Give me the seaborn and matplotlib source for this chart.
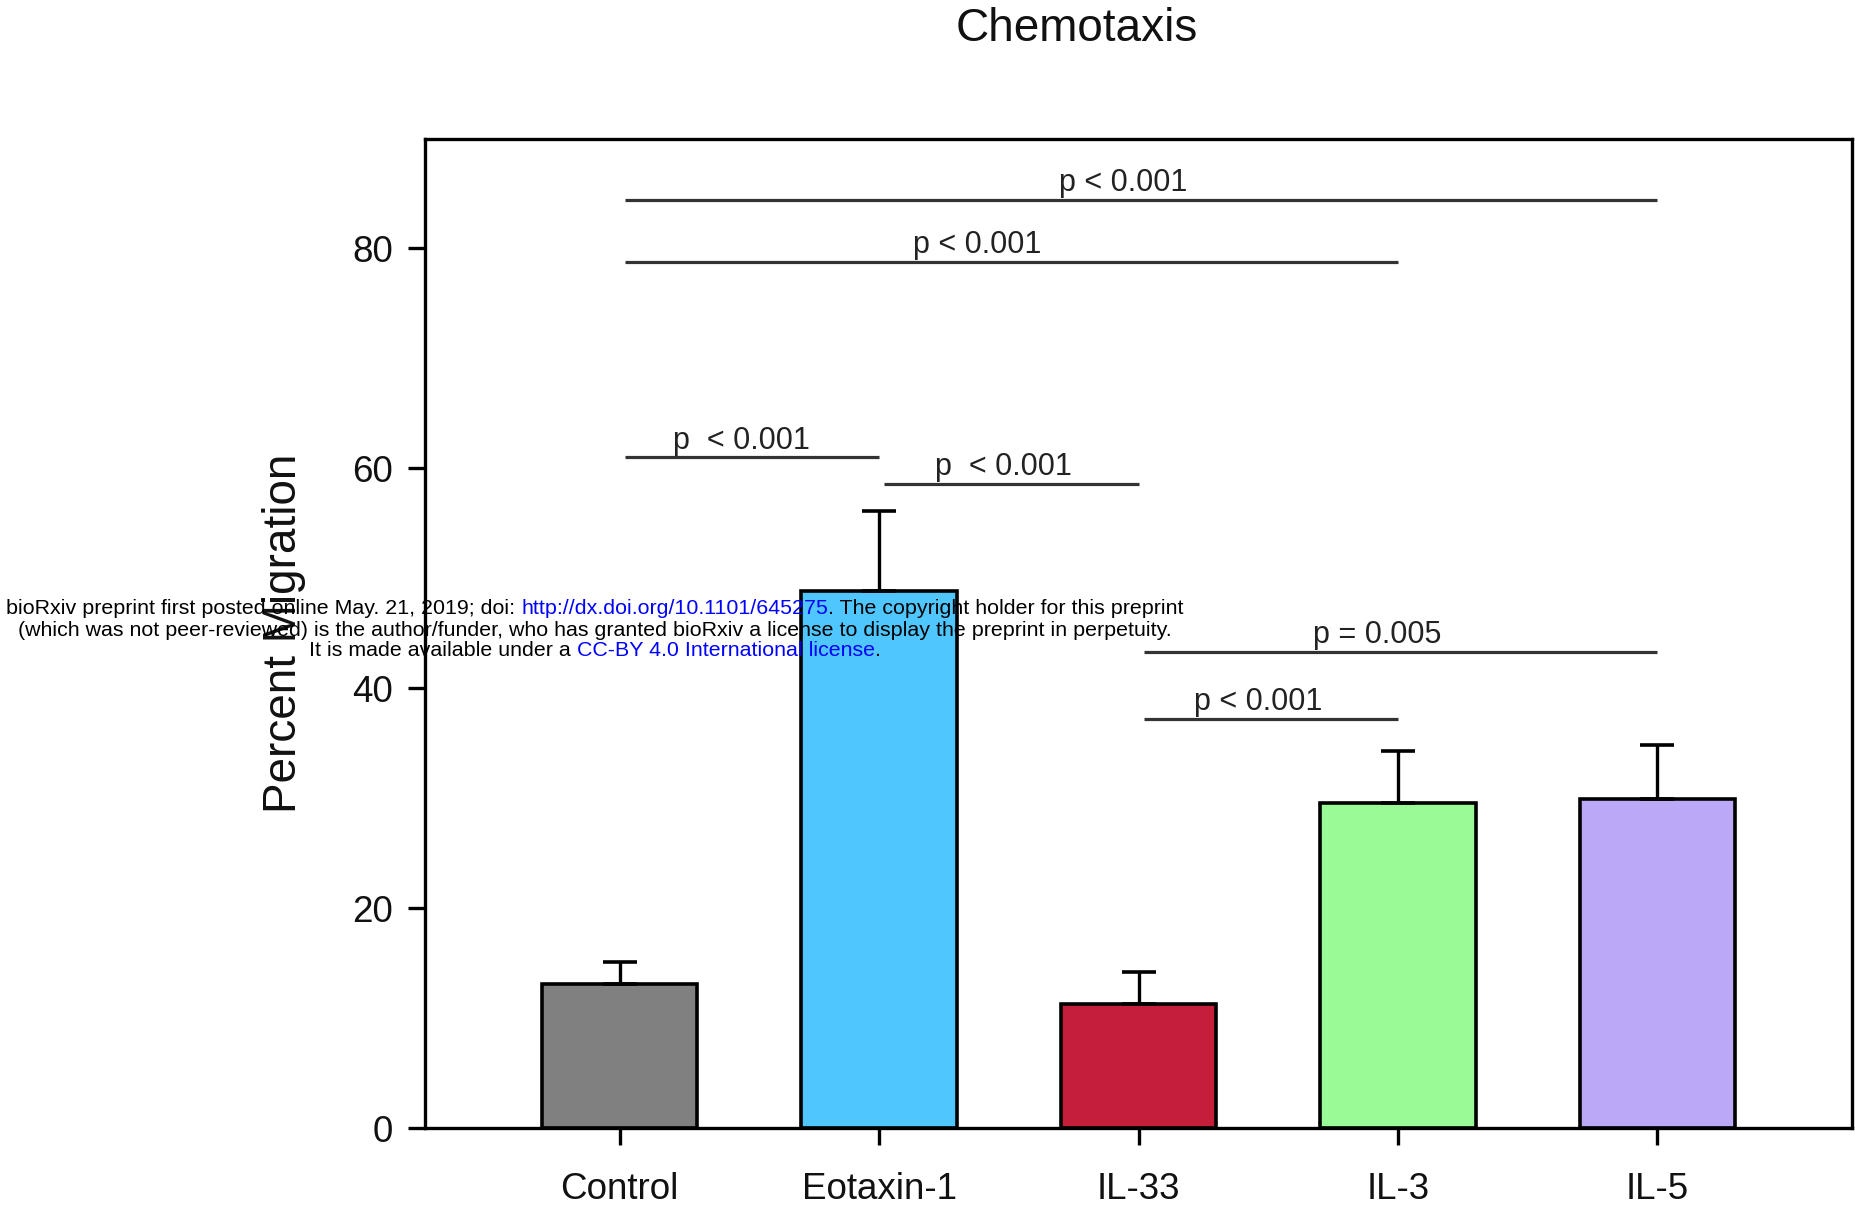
import numpy as np
import pandas as pd
import matplotlib
matplotlib.use("Agg")
import matplotlib.pyplot as plt
import seaborn as sns

# ---- data ----
categories = ["Control", "Eotaxin-1", "IL-33", "IL-3", "IL-5"]
means = [13.1, 48.8, 11.3, 29.6, 29.9]
errors = [2.0, 7.3, 2.9, 4.7, 4.9]
colors = ["#808080", "#50C6FF", "#C41E3A", "#98FB96", "#BBA9F8"]

comp_start = [0, 0, 0, 1, 2, 2]
comp_end = [4, 3, 1, 2, 4, 3]
comp_height = [84.4, 78.8, 61.0, 58.6, 43.3, 37.2]
comp_label = ["p < 0.001", "p < 0.001", "p  < 0.001", "p  < 0.001", "p = 0.005", "p < 0.001"]
comp_text_x = [1.94, 1.38, 0.47, 1.48, 2.92, 2.46]

yticks = [0, 20, 40, 60, 80]

# ---- style ----
sns.set_theme(style="ticks")
plt.rcParams["font.family"] = ["Liberation Sans", "DejaVu Sans"]

W, H = 1856, 1211
fig = plt.figure(figsize=(W / 100, H / 100), dpi=100)
ax = fig.add_axes([425 / W, 1 - 1128 / H, (1852 - 425) / W, (1128 - 138.5) / H])

df = pd.DataFrame({"Condition": categories, "Migration": means})
sns.barplot(data=df, x="Condition", y="Migration", hue="Condition",
            palette=colors, saturation=1, width=0.6, edgecolor="black",
            linewidth=2.6, errorbar=None, legend=False, ax=ax)

ax.errorbar(x=np.arange(len(categories)), y=means,
            yerr=[np.zeros(len(errors)), errors], fmt="none",
            ecolor="black", elinewidth=2.4, capsize=12, capthick=2.6, zorder=3)

for s, e, h, lab, tx in zip(comp_start, comp_end, comp_height, comp_label, comp_text_x):
    ax.plot([s + 0.02, e], [h, h], color="#333333", lw=2.3, solid_capstyle="butt")
    ax.text(tx, h + 0.8, lab, ha="center", va="baseline", fontsize=22, color="#222222")

ax.set_xlim(-0.75, 4.75)
ax.set_ylim(0, 90)
ax.set_yticks(yticks)
ax.set_xlabel("")
ax.set_ylabel("Percent Migration", fontsize=33, color="#111111")
ax.yaxis.set_label_coords(-0.099, 0.5)
ax.yaxis.label.set_va("center")

for sp in ax.spines.values():
    sp.set_visible(True)
    sp.set_linewidth(2.4)
    sp.set_color("black")

ax.tick_params(axis="both", direction="out", length=12, width=2.4, colors="black",
               labelsize=26.5, labelcolor="#111111")
ax.tick_params(axis="y", pad=11)
ax.tick_params(axis="x", pad=20)

fig.text(1077 / W, 1 - 29 / H, "Chemotaxis", ha="center", va="center",
         fontsize=33, color="#111111")

# ---- bioRxiv watermark ----
wm_lines = [
    [("bioRxiv preprint first posted online May. 21, 2019; doi: ", "black"),
     ("http://dx.doi.org/10.1101/645275", "#0000FF"),
     (". The copyright holder for this preprint", "black")],
    [("(which was not peer-reviewed) is the author/funder, who has granted bioRxiv a license to display the preprint in perpetuity.", "black")],
    [("It is made available under a ", "black"),
     ("CC-BY 4.0 International license", "#0000FF"),
     (".", "black")],
]
wm_y = [609, 630, 651]
wm_xc = 595
renderer = fig.canvas.get_renderer()
for pieces, yy in zip(wm_lines, wm_y):
    texts = [fig.text(0, 1 - yy / H, s, color=c, fontsize=15.4, ha="left",
                      va="center", zorder=10) for s, c in pieces]
    widths = [t.get_window_extent(renderer).width for t in texts]
    x0 = wm_xc - sum(widths) / 2
    for t, w in zip(texts, widths):
        t.set_x(x0 / W)
        x0 += w

fig.savefig("out.png", dpi=100, facecolor="white")
